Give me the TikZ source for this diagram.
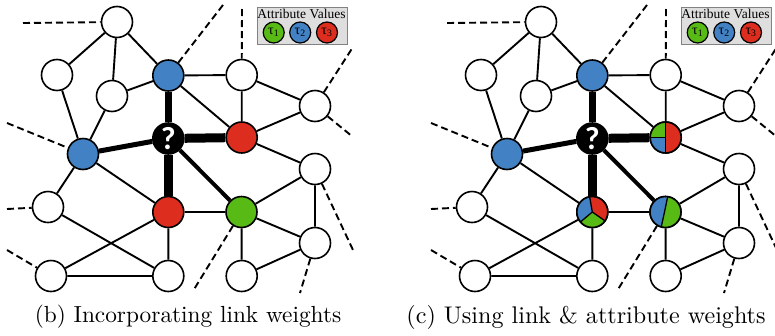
\documentclass[tikz,border=0pt]{standalone}
\usepackage{fontspec}
\usetikzlibrary{calc}
\newfontfamily\qfont{Carlito}
\newfontfamily\legfont{Liberation Serif}
\pgfdeclarelayer{bg}
\pgfsetlayers{bg,main}

\definecolor{tgreen}{RGB}{88,186,20}
\definecolor{tblue}{RGB}{66,130,196}
\definecolor{tred}{RGB}{220,45,30}
\definecolor{keyfill}{RGB}{222,222,222}
\definecolor{keyline}{RGB}{130,130,130}

\tikzset{
  vtx/.style={circle,draw=black,line width=1.6pt,minimum size=31pt,inner sep=0pt,fill=white},
  link/.style={line width=1.9pt},
  weaklink/.style={line width=1.3pt},
  heavy/.style={line width=#1},
  ext/.style={line width=1.9pt,dash pattern=on 7pt off 4pt},
  keydot/.style={circle,draw=black,line width=1.2pt,minimum size=21pt,inner sep=0pt,font=\legfont\fontsize{14}{14}\selectfont},
  hcol/.style={}, kcol/.style={}, lcol/.style={},
}

% one network panel, nodes + links + key
\newcommand\netbody{%
  % key box
  \node[draw=keyline,fill=keyfill,line width=1pt,minimum width=90pt,minimum height=37pt,inner sep=0pt] (keybox) at (302,25.5) {};
  \node[font=\legfont\fontsize{13.5}{14}\selectfont,inner sep=0pt] (keytitle) at (301.5,14) {Attribute Values};
  \node[keydot,fill=tgreen] (key1) at (273.7,32.5) {τ\textsubscript{1}};
  \node[keydot,fill=tblue]  (key2) at (300.2,32.5) {τ\textsubscript{2}};
  \node[keydot,fill=tred]   (key3) at (327,32.5)   {τ\textsubscript{3}};
  % vertices
  \node[vtx] (A) at (117,22) {};
  \node[vtx] (B) at (57,75) {};
  \node[vtx] (C) at (112,96) {};
  \node[vtx,fill=tblue] (D) at (168.3,75.5) {};
  \node[vtx] (E) at (241.7,75) {};
  \node[vtx] (F) at (315,106) {};
  \node[vtx,fill=tblue] (G) at (83,154) {};
  \node[vtx,fill=black] (Q) at (168.3,138.5) {\qfont\bfseries\fontsize{32}{32}\selectfont\color{white}?};
  \node[vtx,hcol] (H) at (241.7,137.5) {};
  \node[vtx] (I) at (315,169) {};
  \node[vtx] (J) at (48,207) {};
  \node[vtx,kcol] (K) at (168.3,212) {};
  \node[vtx,lcol] (L) at (241.5,212) {};
  \node[vtx] (M) at (315,243) {};
  \node[vtx] (N) at (51,276) {};
  \node[vtx] (O) at (168.3,276) {};
  \node[vtx] (P) at (241.7,276) {};
  % free ends of the cut links
  \coordinate (xA) at (23,23);
  \coordinate (xD) at (223,5);
  \coordinate (xE) at (242,9);
  \coordinate (xF1) at (353,47);
  \coordinate (xF2) at (353,137);
  \coordinate (xG) at (7,123);
  \coordinate (xI) at (353,250);
  \coordinate (xJ) at (7,209);
  \coordinate (xL) at (193,291);
  \coordinate (xM) at (300,293);
  \coordinate (xN) at (7,250);
  \begin{pgfonlayer}{bg}
    \draw[link] (A) -- (B) (A) -- (C) (A) -- (D) (C) -- (D) (C) -- (G)
      (B) -- (G) (D) -- (E) (D) -- (H) (E) -- (H) (E) -- (F) (F) -- (H)
      (G) -- (K) (G) -- (J) (H) -- (I) (I) -- (L) (I) -- (M) (J) -- (O)
      (K) -- (N) (K) -- (O) (L) -- (M) (L) -- (P) (M) -- (P) (N) -- (O);
    \draw[weaklink] (K) -- (L);
    \draw[heavy=6.5pt] (Q) -- (D);
    \draw[heavy=9pt] (Q) -- (H);
    \draw[heavy=9pt] (Q) -- (K);
    \draw[heavy=5pt] (Q) -- (G);
    \draw[heavy=4pt] (Q) -- (L);
    \draw[ext] (xA) -- (A) (D) -- (xD) (xE) -- (E) (F) -- (xF1) (F) -- (xF2)
      (xG) -- (G) (I) -- (xI) (xJ) -- (J) (L) -- (xL) (M) -- (xM) (xN) -- (N);
  \end{pgfonlayer}
}

\begin{document}
\begin{tikzpicture}[x=1pt,y=-1pt]
  \useasboundingbox (0,0) rectangle (775,335);

  % panel (b): link weights only
  \begin{scope}[name prefix=b-, hcol/.style={fill=tred}, kcol/.style={fill=tred}, lcol/.style={fill=tgreen}]
    \netbody
  \end{scope}

  % panel (c): link and attribute weights
  \begin{scope}[shift={(424,0)}, name prefix=c-]
    \netbody
  \end{scope}

  % mixed attribute distributions on three neighbours of panel (c)
  \def\rr{15.5pt}
  % right neighbour
  \fill[tred]   (c-H.center) -- ++(-90:\rr) arc[start angle=-90,end angle=90,radius=\rr] -- cycle;
  \fill[tgreen] (c-H.center) -- ++(90:\rr) arc[start angle=90,end angle=180,radius=\rr] -- cycle;
  \fill[tblue]  (c-H.center) -- ++(180:\rr) arc[start angle=180,end angle=270,radius=\rr] -- cycle;
  \draw[line width=1.3pt] ($(c-H.center)+(90:\rr)$) -- ($(c-H.center)+(-90:\rr)$)
        (c-H.center) -- ++(180:\rr);
  \draw[line width=1.6pt] (c-H.center) circle[radius=15.5pt];
  % lower neighbour
  \fill[tred]   (c-K.center) -- ++(-35:\rr) arc[start angle=-35,end angle=100,radius=\rr] -- cycle;
  \fill[tblue]  (c-K.center) -- ++(100:\rr) arc[start angle=100,end angle=220,radius=\rr] -- cycle;
  \fill[tgreen] (c-K.center) -- ++(220:\rr) arc[start angle=220,end angle=325,radius=\rr] -- cycle;
  \draw[line width=1.3pt] (c-K.center) -- ++(100:\rr) (c-K.center) -- ++(220:\rr) (c-K.center) -- ++(-35:\rr);
  \draw[line width=1.6pt] (c-K.center) circle[radius=15.5pt];
  % diagonal neighbour
  \fill[tgreen] (c-L.center) circle[radius=\rr];
  \fill[tblue]  ($(c-L.center)+(-1pt,0pt)$) -- ($(c-L.center)+(82:\rr)$) arc[start angle=82,end angle=254,radius=\rr] -- cycle;
  \draw[line width=1.3pt] ($(c-L.center)+(82:\rr)$) -- ($(c-L.center)+(-1pt,0pt)$) -- ($(c-L.center)+(254:\rr)$);
  \draw[line width=1.6pt] (c-L.center) circle[radius=15.5pt];

  % captions
  \node[scale=2.33,inner sep=0pt] (capb) at (188,317) {\fontsize{10}{12}\selectfont (b) Incorporating link weights};
  \node[scale=2.41,inner sep=0pt] (capc) at (586,317) {\fontsize{10}{12}\selectfont (c) Using link \& attribute weights};
\end{tikzpicture}
\end{document}
